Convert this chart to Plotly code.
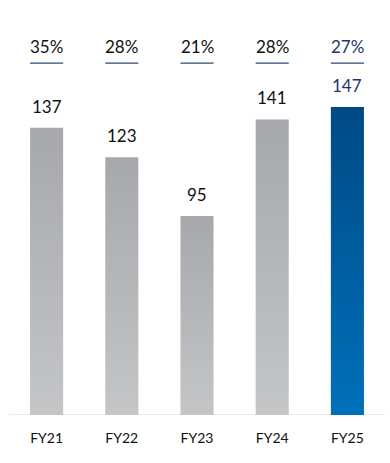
import plotly.graph_objects as go

categories = ["FY21", "FY22", "FY23", "FY24", "FY25"]
values = [137, 123, 95, 141, 147]
margins = ["35%", "28%", "21%", "28%", "27%"]

gray_scale = [[0, "#C4C5C7"], [1, "#A7A8AB"]]
blue_scale = [[0, "#0070BA"], [1, "#004A85"]]
dark = "#111111"
navy = "#1F3470"
line_col = "#2C4A78"
font = "Lato, Calibri, Carlito, Arial, sans-serif"

w = 0.22
fig = go.Figure()
for i, (c, v) in enumerate(zip(categories, values)):
    last = i == len(categories) - 1
    fig.add_trace(go.Scatter(
        x=[i - w, i + w, i + w, i - w, i - w],
        y=[0, 0, v, v, 0],
        mode="lines", line=dict(width=0), fill="toself",
        fillgradient=dict(type="vertical", colorscale=blue_scale if last else gray_scale),
        hoverinfo="skip", showlegend=False,
    ))
    fig.add_annotation(x=i, y=v, xref="x", yref="y", text=str(v), showarrow=False,
                       yanchor="bottom", yshift=9,
                       font=dict(family=font, size=17, color=navy if last else dark))
    fig.add_annotation(x=i, y=0.887, xref="x", yref="paper", text=margins[i], showarrow=False,
                       yanchor="middle",
                       font=dict(family=font, size=17, color=navy if last else dark))
    fig.add_shape(type="line", xref="x", yref="paper", x0=i - w, x1=i + w, y0=0.848, y1=0.848,
                  line=dict(color=line_col, width=1.2))

fig.add_shape(type="line", xref="paper", yref="y", x0=0, x1=1, y0=0, y1=0,
              line=dict(color="#D9D9D9", width=1.2), layer="below")

fig.update_layout(
    width=390, height=463,
    margin=dict(l=9, r=5, t=0, b=48),
    plot_bgcolor="white", paper_bgcolor="white",
    xaxis=dict(range=[-0.5, 4.5], tickvals=list(range(len(categories))), ticktext=categories,
               showgrid=False, zeroline=False, showline=False, ticks="",
               ticklabelstandoff=13,
               tickfont=dict(family=font, size=14, color=dark), fixedrange=True),
    yaxis=dict(range=[0, 198], visible=False, showgrid=False, zeroline=False, fixedrange=True),
    showlegend=False,
)
fig.write_html("out.html", config={"displayModeBar": False},
               post_script="document.body.style.margin='0';document.body.style.overflow='hidden';")
